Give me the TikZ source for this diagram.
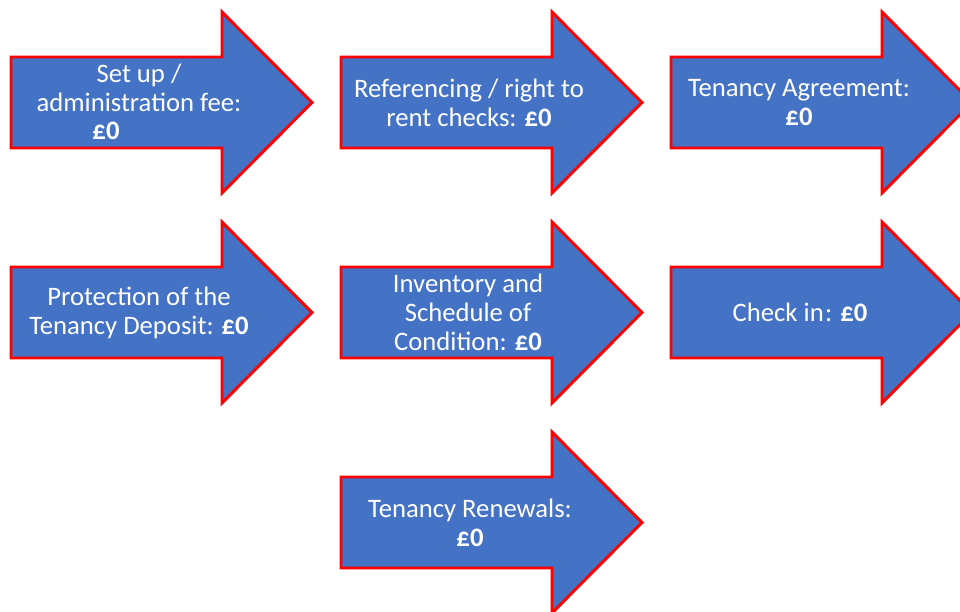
\documentclass[tikz,border=0pt]{standalone}
\usepackage{fontspec}
\setmainfont{Carlito}
\definecolor{arrowblue}{HTML}{4472C4}
\definecolor{arrowred}{HTML}{FF0000}
\tikzset{
  bigarrow/.pic={
    \path[fill=arrowblue, draw=arrowred, line width=2.2pt, line join=miter]
      (0,45) -- (211,45) -- (211,0) -- (301,90.5) -- (211,181) -- (211,136) -- (0,136) -- cycle;
  },
  lbl/.style={text=white, align=center, inner sep=0pt, font=\fontsize{20}{21.75}\selectfont}
}
\begin{document}
\begin{tikzpicture}[x=0.75pt,y=-0.75pt]
\useasboundingbox (0,0) rectangle (960,611);
\pic at (11,12) {bigarrow};
\pic at (341,12) {bigarrow};
\pic at (671,12) {bigarrow};
\pic at (11,222) {bigarrow};
\pic at (341,222) {bigarrow};
\pic at (671,222) {bigarrow};
\pic at (341,432) {bigarrow};
\node[lbl] (t1) at (139,88) {Set up /\\administration fee:};
\node[lbl] (t1b) at (106,131) {\textbf{£0}};
\node[lbl] (t2) at (469,103) {Referencing / right to\\rent checks: \textbf{£0}};
\node[lbl] (t3) at (799,103) {Tenancy Agreement:\\\textbf{£0}};
\node[lbl] (t4) at (139,313) {Protection of the\\Tenancy Deposit: \textbf{£0}};
\node[lbl] (t5) at (468,312) {Inventory and\\Schedule of\\Condition: \textbf{£0}};
\node[lbl] (t6) at (800,312) {Check in\kern1pt: \textbf{£0}};
\node[lbl] (t7) at (470,523) {Tenancy Renewals:\\\textbf{£0}};
\end{tikzpicture}
\end{document}
